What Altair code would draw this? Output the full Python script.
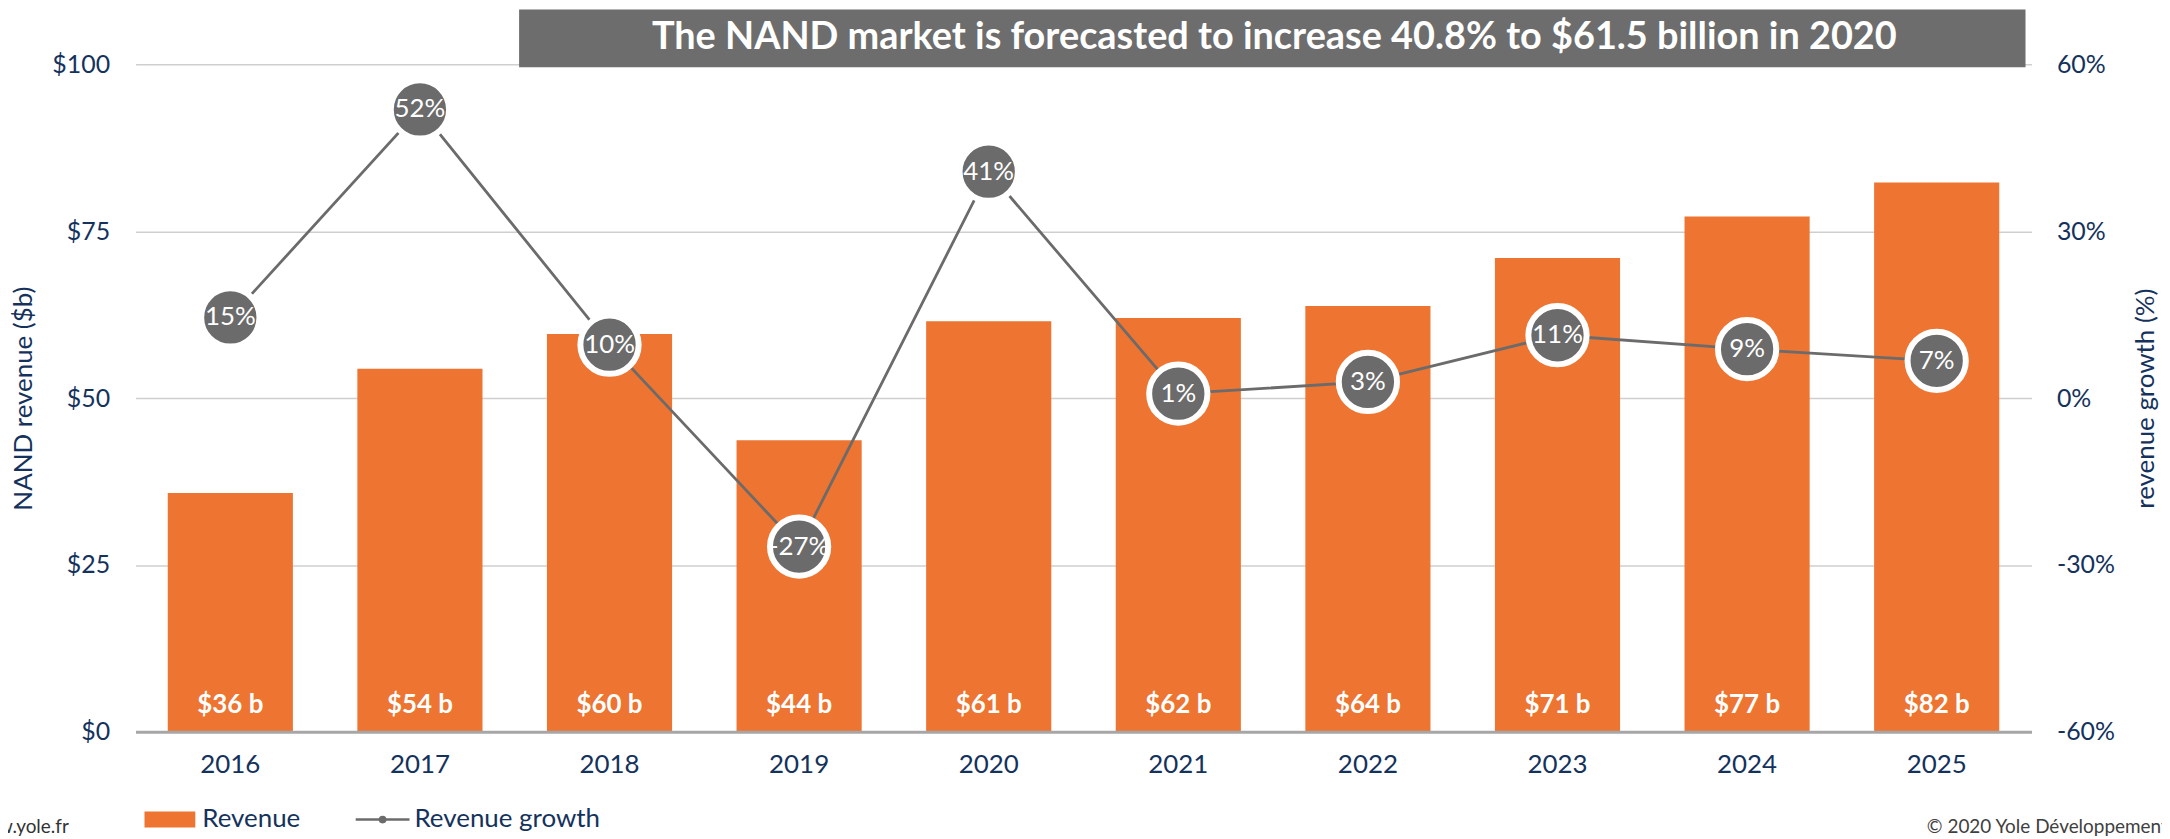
import altair as alt
import pandas as pd

# ---------------- data ----------------
years = ["2016", "2017", "2018", "2019", "2020", "2021", "2022", "2023", "2024", "2025"]
revenue = [35.8, 54.4, 59.6, 43.7, 61.5, 62.0, 63.8, 71.0, 77.2, 82.3]
revenue_labels = ["$36 b", "$54 b", "$60 b", "$44 b", "$61 b", "$62 b", "$64 b", "$71 b", "$77 b", "$82 b"]
growth = [14.5, 51.9, 9.6, -26.7, 40.7, 0.8, 2.9, 11.3, 8.8, 6.7]
growth_labels = ["15%", "52%", "10%", "-27%", "41%", "1%", "3%", "11%", "9%", "7%"]
left_ticks = [0, 25, 50, 75, 100]
right_ticks = [-60, -30, 0, 30, 60]
legend_names = ["Revenue", "Revenue growth"]
title_text = "The NAND market is forecasted to increase 40.8% to $61.5 billion in 2020"
footer_left = "www.yole.fr"
footer_right = "© 2020 Yole Développement"

# ---------------- style ----------------
FONT = "Lato"
ORANGE = "#ED7431"
GRAY = "#6b6b6b"
NAVY = "#14325c"
W, H = 1903, 670

df = pd.DataFrame({
    "year": years,
    "revenue": revenue,
    "rev_label": revenue_labels,
    "growth": growth,
    "growth_label": growth_labels,
})

x_enc = alt.X(
    "year:N", sort=years,
    scale=alt.Scale(paddingInner=0.34, paddingOuter=0.17),
    axis=alt.Axis(title=None, labelAngle=0, labelFontSize=26, labelColor=NAVY, labelFont=FONT,
                  labelPadding=20, ticks=False, domainColor="#a6a6a6", domainWidth=3,
                  grid=False, zindex=1),
)

y_left = alt.Y(
    "revenue:Q",
    scale=alt.Scale(domain=[0, 100], nice=False, zero=True),
    axis=alt.Axis(values=left_ticks, labelExpr="'$' + datum.value", orient="left",
                  title="NAND revenue ($b)", titleFont=FONT, titleFontSize=26,
                  titleFontWeight="normal", titleColor=NAVY, titleAngle=270,
                  titleX=-112, titleY=H / 2, titleBaseline="middle", titleAlign="center",
                  labelFont=FONT, labelFontSize=25, labelColor=NAVY, labelPadding=26,
                  ticks=False, domain=False, grid=True, gridColor="#cfcfcf", gridWidth=1.5),
)

y_right = alt.Y(
    "growth:Q",
    scale=alt.Scale(domain=[-60, 60], nice=False, zero=False),
    axis=alt.Axis(values=right_ticks, labelExpr="datum.value + '%'", orient="right",
                  title="revenue growth (%)", titleFont=FONT, titleFontSize=26,
                  titleFontWeight="normal", titleColor=NAVY, titleAngle=270,
                  titleX=114, titleY=H / 2, titleBaseline="middle", titleAlign="center",
                  labelFont=FONT, labelFontSize=25, labelColor=NAVY, labelPadding=25,
                  ticks=False, domain=False, grid=False),
)

base = alt.Chart(df)

bars = base.mark_bar(color=ORANGE).encode(x=x_enc, y=y_left)
bar_text = base.mark_text(font=FONT, fontSize=26, fontWeight="bold", color="white",
                          baseline="middle", dy=-27).encode(
    x=x_enc, y=alt.datum(0), text="rev_label:N")
left = alt.layer(bars, bar_text)

line = base.mark_line(color=GRAY, strokeWidth=2.8).encode(x=x_enc, y=y_right)
dots = base.mark_point(filled=True, shape="circle", size=3421, fill=GRAY, opacity=1,
                       stroke="white", strokeWidth=6, strokeOpacity=1).encode(x=x_enc, y=y_right)
dot_text = base.mark_text(font=FONT, fontSize=26, color="white", baseline="middle").encode(
    x=x_enc, y=y_right, text="growth_label:N")
right = alt.layer(line, dots, dot_text)

# ---------------- decorations ----------------
tdf = pd.DataFrame({"t": [title_text]})
title_box = alt.Chart(tdf).mark_rect(color="#6d6d6d").encode(
    x=alt.value(385), x2=alt.value(1897), y=alt.value(-55), y2=alt.value(3))
title_txt = alt.Chart(tdf).mark_text(font=FONT, fontSize=38, fontWeight="bold", color="white",
                                     align="center", baseline="middle").encode(
    x=alt.value(1143), y=alt.value(-26), text="t:N")

ldf = pd.DataFrame({"name": legend_names})
leg_rect = alt.Chart(ldf).transform_filter(alt.datum.name == legend_names[0]).mark_rect(color=ORANGE).encode(
    x=alt.value(9), x2=alt.value(60), y=alt.value(750), y2=alt.value(766))
leg_line = alt.Chart(ldf).transform_filter(alt.datum.name == legend_names[1]).mark_rule(
    color=GRAY, strokeWidth=2.5).encode(x=alt.value(221), x2=alt.value(275), y=alt.value(758))
leg_dot = alt.Chart(ldf).transform_filter(alt.datum.name == legend_names[1]).mark_point(
    filled=True, shape="circle", size=60, color=GRAY, opacity=1).encode(
    x=alt.value(248), y=alt.value(758))
leg_t1 = alt.Chart(ldf).transform_filter(alt.datum.name == legend_names[0]).mark_text(
    font=FONT, fontSize=26, color=NAVY, align="left", baseline="middle").encode(
    x=alt.value(67), y=alt.value(757), text="name:N")
leg_t2 = alt.Chart(ldf).transform_filter(alt.datum.name == legend_names[1]).mark_text(
    font=FONT, fontSize=26, color=NAVY, align="left", baseline="middle").encode(
    x=alt.value(280), y=alt.value(757), text="name:N")

fdf = pd.DataFrame({"l": [footer_left], "r": [footer_right]})
foot_l = alt.Chart(fdf).mark_text(font=FONT, fontSize=19, color="#333333", align="right",
                                  baseline="middle").encode(x=alt.value(-67), y=alt.value(766), text="l:N")
foot_r = alt.Chart(fdf).mark_text(font=FONT, fontSize=19, color="#404040", align="left",
                                  baseline="middle").encode(x=alt.value(1798), y=alt.value(766), text="r:N")

chart = alt.layer(
    alt.layer(left, right).resolve_scale(y="independent"),
    title_box, title_txt, leg_rect, leg_line, leg_dot, leg_t1, leg_t2, foot_l, foot_r,
).properties(
    width=W, height=H,
    autosize=alt.AutoSizeParams(type="none"),
    padding={"left": 128, "top": 55, "right": 131, "bottom": 106},
    background="white",
).configure_view(stroke=None)

chart.save("out.html", embed_options={"renderer": "svg", "actions": False})
